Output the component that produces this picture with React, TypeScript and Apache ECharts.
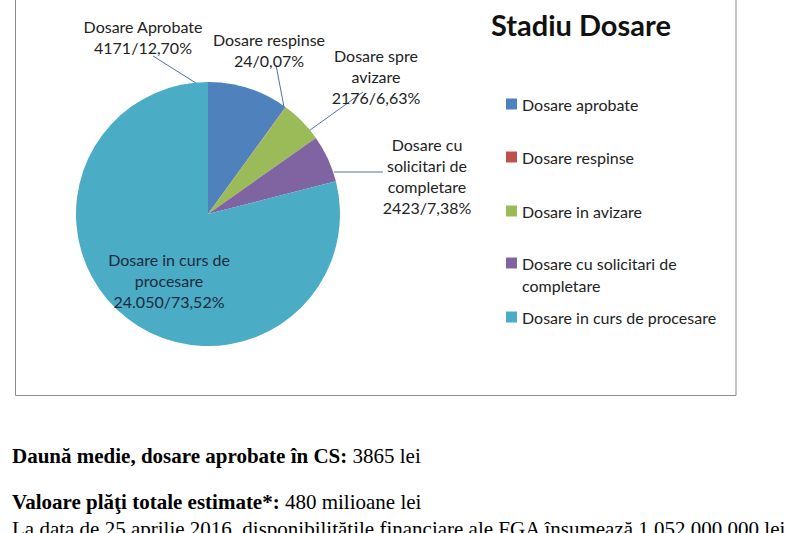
import React, { useEffect, useRef } from "react";
import * as echarts from "echarts";

const categories = [
  "Dosare aprobate",
  "Dosare respinse",
  "Dosare in avizare",
  "Dosare cu solicitari de completare",
  "Dosare in curs de procesare",
];
const legendLabels = [
  "Dosare aprobate",
  "Dosare respinse",
  "Dosare in avizare",
  "Dosare cu solicitari de\ncompletare",
  "Dosare in curs de procesare",
];
const sliceLabels = [
  "Dosare Aprobate",
  "Dosare respinse",
  "Dosare spre\navizare",
  "Dosare cu\nsolicitari de\ncompletare",
  "Dosare in curs de\nprocesare",
];
// slice sizes as drawn in the picture (the last slice is visibly larger than its label says)
const sliceValues = [4171, 24, 2176, 2423, 33050];
// numbers printed in the labels
const labelCounts = [4171, 24, 2176, 2423, 24050];
const labelPercents = [12.7, 0.07, 6.63, 7.38, 73.52];
const colors = ["#4F81BD", "#C0504D", "#9BBB59", "#8064A2", "#4BACC6"];

const titleText = "Stadiu Dosare";
const noteLines = [
  { bold: "Daună medie, dosare aprobate în CS:", normal: "3865 lei" },
  { bold: "Valoare plăţi totale estimate*:", normal: "480 milioane lei" },
  { bold: "", normal: "La data de 25 aprilie 2016, disponibilitățile financiare ale FGA însumează 1.052.000.000 lei" },
];

// layout only
const labelPos = [
  [143, 37],
  [269, 50],
  [376, 76],
  [427, 176],
  [169, 280],
];
const linePts: (number[][] | null)[] = [
  [[153, 56], [207, 90]],
  [[276, 65], [284, 107]],
  [[363, 92], [306, 133]],
  [[383, 172], [334, 172]],
  null,
];
const legendTops = [93, 146, 200, 252, 306];
const noteY = [456, 502, 529];

function fmtCount(v: number) {
  const s = String(v);
  return v >= 10000 ? s.replace(/\B(?=(\d{3})+(?!\d))/g, ".") : s;
}
function fmtPct(p: number) {
  return p.toFixed(2).replace(".", ",") + "%";
}

export default function App() {
  const ref = useRef<HTMLDivElement>(null);
  useEffect(() => {
    if (!ref.current) return;
    const chart = echarts.init(ref.current, null, { renderer: "svg" });
    const labelFont = { fontFamily: "Lato", fontSize: 16, lineHeight: 21, color: "#222" };
    const legends = categories.map((c, i) => ({
      data: [c],
      left: 506,
      top: legendTops[i],
      orient: "vertical",
      padding: 0,
      itemWidth: 11,
      itemHeight: i === 3 ? 44 : 11,
      icon: i === 3 ? "path://M0,0M0,5.5L11,5.5L11,16.5L0,16.5ZM0,44" : "rect",
      selectedMode: false,
      formatter: (name: string) => legendLabels[categories.indexOf(name)],
      textStyle: { fontFamily: "Lato", fontSize: 16, lineHeight: 22, color: "#222" },
    }));
    const graphics: any[] = [
      {
        type: "rect",
        shape: { x: 15.5, y: -5, width: 720.5, height: 400.5 },
        style: { fill: "none", stroke: "#8c8c8c", lineWidth: 1 },
        silent: true,
      },
    ];
    noteLines.forEach((l, i) => {
      graphics.push({
        type: "text",
        x: 12,
        y: noteY[i],
        style: {
          text: (l.bold ? "{b|" + l.bold + "} " : "") + "{n|" + l.normal + "}",
          verticalAlign: "middle",
          fill: "#000",
          font: "21px 'Liberation Serif'",
          rich: {
            b: { fontFamily: "Liberation Serif", fontSize: 21, fontWeight: "bold", fill: "#000" },
            n: { fontFamily: "Liberation Serif", fontSize: 21, fill: "#000" },
          },
        },
      });
    });
    chart.setOption({
      animation: false,
      color: colors,
      title: {
        text: titleText,
        left: 491,
        top: 7,
        padding: 0,
        textStyle: { fontFamily: "Lato", fontWeight: "bold", fontSize: 29, lineHeight: 34, color: "#111" },
      },
      legend: legends,
      series: [
        {
          type: "pie",
          center: [208, 214],
          radius: 132,
          startAngle: 90,
          clockwise: true,
          avoidLabelOverlap: false,
          label: {
            show: true,
            position: "outside",
            ...labelFont,
            align: "center",
            formatter: (p: any) =>
              sliceLabels[p.dataIndex] +
              "\n" +
              fmtCount(labelCounts[p.dataIndex]) +
              "/" +
              fmtPct(labelPercents[p.dataIndex]),
          },
          labelLine: { show: true, lineStyle: { color: "#4F73A8", width: 1 } },
          labelLayout: (p: any) => {
            const i = p.dataIndex;
            const o: any = { x: labelPos[i][0], y: labelPos[i][1], align: "center", verticalAlign: "middle" };
            if (linePts[i]) o.labelLinePoints = linePts[i];
            return o;
          },
          emphasis: { disabled: true },
          data: categories.map((c, i) => ({
            name: c,
            value: sliceValues[i],
            ...(i === 4 ? { labelLine: { show: false }, label: { color: "#1b2a3c" } } : {}),
          })),
        },
      ],
      graphic: graphics,
    });
    return () => chart.dispose();
  }, []);
  return (
    <div
      ref={ref}
      style={{ position: "absolute", left: 0, top: 0, width: 800, height: 533, background: "#fff" }}
    />
  );
}
